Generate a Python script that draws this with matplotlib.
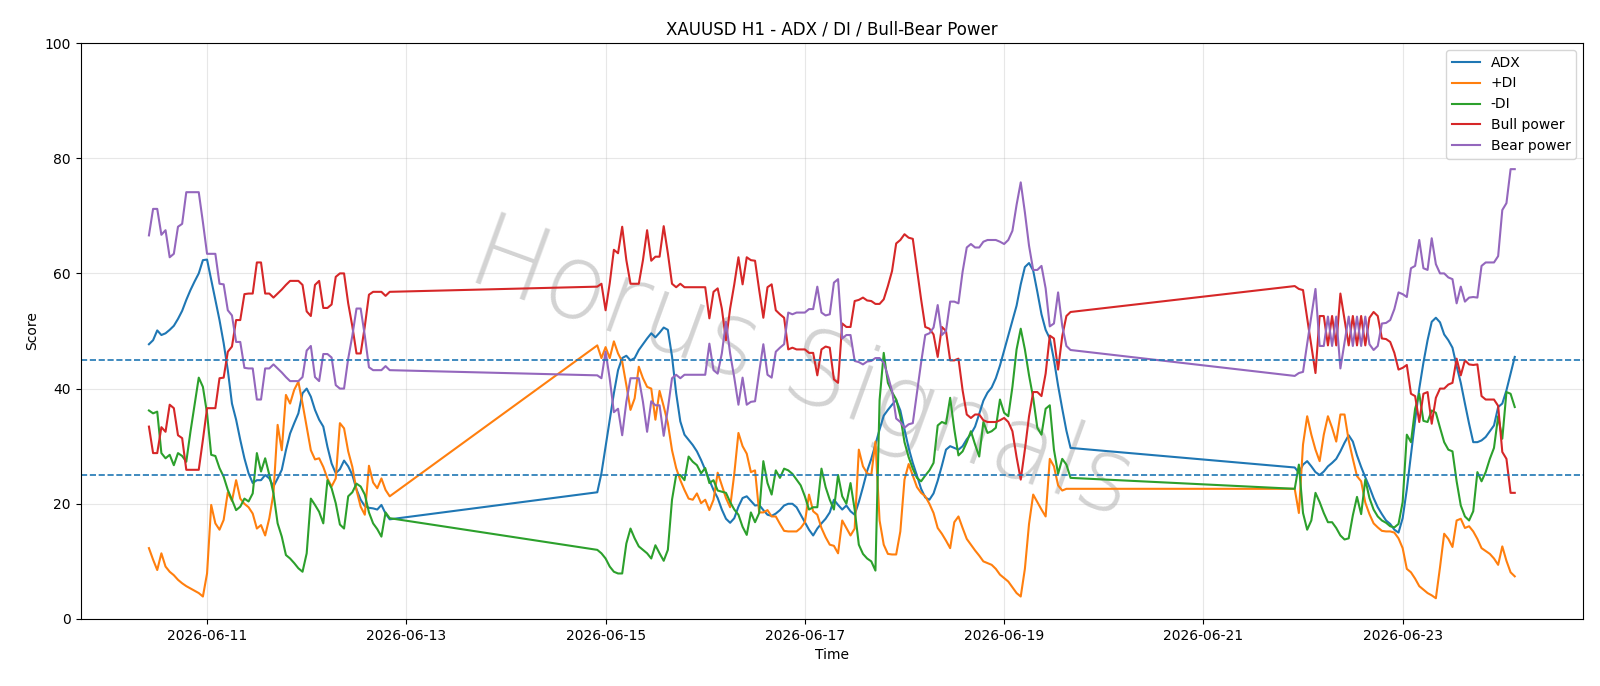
import matplotlib
matplotlib.use("Agg")
import matplotlib.pyplot as plt
import matplotlib.dates as mdates
from matplotlib import font_manager
import numpy as np
import pandas as pd

# ---- time axis: three hourly trading segments (weekend gaps between them)
seg_starts = ["2026-06-10 10:00", "2026-06-14 22:00", "2026-06-21 22:00"]
seg_lengths = [59, 115, 54]

adx = [
    47.7, 48.4, 50.1, 49.3, 49.6, 50.2, 50.9, 52.1, 53.5, 55.4,
    57.1, 58.6, 60.0, 62.3, 62.4, 58.9, 55.4, 51.9, 47.9, 43.2,
    37.4, 34.6, 31.1, 27.9, 25.3, 23.6, 24.1, 24.1, 25.0, 24.4,
    23.0, 24.4, 25.9, 29.3, 32.2, 34.0, 35.7, 39.2, 40.0, 38.6,
    36.3, 34.6, 33.4, 29.9, 27.0, 25.3, 26.0, 27.5, 26.5, 25.0,
    22.5, 20.7, 19.6, 19.3, 19.2, 19.0, 19.8, 18.3, 17.3,
    22.0, 25.3, 29.9, 34.6, 39.2, 43.2, 45.3, 45.7, 44.9, 45.3,
    46.7, 47.7, 48.7, 49.6, 48.9, 49.7, 50.6, 50.2, 45.6, 39.2,
    34.3, 32.0, 31.1, 30.2, 29.1, 27.6, 25.9, 24.1, 22.4, 21.0,
    19.0, 17.4, 16.7, 17.5, 19.5, 21.0, 21.3, 20.5, 19.7, 19.8,
    18.9, 18.1, 17.9, 18.3, 18.9, 19.7, 20.0, 20.0, 19.4, 18.1,
    16.8, 15.5, 14.5, 15.7, 16.6, 17.4, 18.5, 20.7, 19.8, 19.0,
    19.7, 18.7, 18.1, 20.3, 22.9, 25.7, 27.8, 30.3, 32.9, 35.3,
    36.3, 37.2, 38.0, 36.2, 32.9, 29.7, 27.1, 24.9, 22.6, 21.1,
    20.7, 21.8, 24.0, 26.6, 29.4, 30.0, 29.7, 29.4, 30.0, 31.2,
    32.1, 33.4, 35.6, 37.9, 39.3, 40.2, 41.8, 44.0, 46.6, 49.2,
    51.8, 54.4, 58.1, 61.1, 61.8, 60.5, 56.8, 52.9, 50.2, 48.7,
    45.0, 40.5, 36.5, 32.7, 29.7,
    26.3, 25.4, 26.8, 27.4, 26.5, 25.5, 25.0, 25.6, 26.5, 27.1,
    27.8, 29.1, 30.6, 31.9, 30.8, 28.4, 26.4, 24.6, 22.9, 21.0,
    19.4, 18.2, 17.1, 16.5, 15.5, 15.0, 17.5, 22.5, 28.5, 34.5,
    40.0, 44.5, 48.4, 51.6, 52.3, 51.5, 49.4, 48.4, 47.1, 43.9,
    41.0, 37.4, 33.9, 30.7, 30.7, 31.0, 31.6, 32.6, 33.6, 36.8,
    37.4, 39.7, 42.6, 45.5,
]

plus_di = [
    12.3, 10.3, 8.5, 11.4, 9.1, 8.2, 7.6, 6.8, 6.2, 5.7,
    5.3, 4.9, 4.5, 3.9, 7.9, 19.8, 16.6, 15.5, 17.2, 22.0,
    20.5, 24.1, 20.9, 20.0, 19.4, 18.3, 15.7, 16.3, 14.5, 17.5,
    21.8, 33.7, 29.3, 38.9, 37.4, 39.8, 41.2, 37.4, 33.4, 29.3,
    27.7, 27.9, 26.4, 24.4, 23.0, 24.4, 34.0, 33.1, 29.1, 26.4,
    22.4, 19.5, 18.1, 26.6, 23.7, 22.7, 24.4, 22.4, 21.3,
    47.5, 45.3, 47.2, 45.3, 48.2, 46.1, 44.7, 40.6, 36.3, 38.3,
    43.8, 41.8, 40.3, 40.0, 34.6, 39.6, 36.9, 34.0, 29.3, 26.2,
    24.1, 22.4, 20.9, 20.7, 21.8, 20.1, 20.7, 18.9, 20.7, 25.4,
    23.2, 21.0, 19.4, 25.2, 32.3, 30.0, 28.7, 25.5, 25.8, 18.5,
    18.5, 18.9, 17.8, 17.8, 16.5, 15.3, 15.2, 15.2, 15.2, 15.8,
    16.8, 21.6, 18.7, 18.1, 15.8, 14.2, 12.9, 12.7, 11.4, 17.1,
    15.8, 14.5, 15.7, 29.4, 26.5, 25.3, 25.0, 30.8, 17.1, 12.9,
    11.3, 11.2, 11.2, 15.2, 24.2, 26.9, 24.9, 22.9, 21.9, 21.3,
    20.0, 18.4, 15.8, 14.8, 13.6, 12.3, 16.8, 17.8, 15.8, 13.9,
    12.9, 11.9, 11.0, 10.0, 9.7, 9.4, 8.7, 7.7, 7.1, 6.5,
    5.5, 4.5, 3.9, 8.7, 16.5, 21.6, 20.3, 19.0, 17.8, 27.8,
    26.5, 23.2, 22.3, 22.6, 22.6,
    22.6, 18.4, 30.3, 35.2, 32.0, 29.4, 27.4, 32.0, 35.2, 33.2,
    30.8, 35.5, 35.5, 31.0, 27.8, 24.8, 23.9, 20.2, 18.2, 16.6,
    15.9, 15.3, 15.2, 15.2, 15.0, 14.0, 12.3, 8.7, 8.1, 7.0,
    5.7, 5.1, 4.5, 4.1, 3.6, 9.0, 14.8, 13.9, 12.5, 17.1,
    17.4, 15.8, 16.1, 15.2, 13.9, 12.3, 11.8, 11.3, 10.5, 9.4,
    12.6, 10.1, 8.1, 7.4,
]

minus_di = [
    36.2, 35.7, 36.0, 28.8, 27.9, 28.5, 26.7, 28.8, 28.3, 27.3,
    32.5, 37.2, 41.9, 40.3, 35.7, 28.5, 28.3, 26.2, 24.7, 22.4,
    20.7, 18.9, 19.5, 20.9, 20.4, 21.8, 28.8, 25.6, 27.9, 25.0,
    21.8, 16.6, 14.3, 11.1, 10.5, 9.7, 8.8, 8.2, 11.4, 20.9,
    19.8, 18.6, 16.6, 24.1, 22.7, 20.1, 16.4, 15.7, 21.3, 22.0,
    23.5, 23.0, 21.6, 18.5, 16.6, 15.6, 14.3, 18.5, 17.5,
    12.0, 11.4, 10.5, 9.1, 8.2, 7.9, 7.9, 13.1, 15.7, 14.0,
    12.6, 12.0, 11.4, 10.5, 12.8, 11.4, 10.1, 12.0, 20.7, 25.0,
    25.0, 24.1, 28.2, 27.3, 26.7, 25.3, 26.2, 23.6, 24.1, 22.3,
    22.1, 21.9, 20.3, 19.0, 18.1, 16.0, 14.6, 18.5, 16.8, 18.4,
    27.4, 23.6, 21.6, 25.8, 24.5, 26.1, 25.8, 25.2, 24.2, 23.2,
    21.3, 19.0, 19.4, 19.4, 26.1, 22.9, 20.7, 19.0, 25.0, 21.3,
    20.0, 23.6, 19.0, 12.9, 11.3, 10.5, 10.0, 8.4, 38.0, 46.2,
    41.0, 39.4, 38.1, 35.2, 30.7, 28.1, 26.1, 24.5, 23.9, 24.9,
    25.8, 27.1, 33.6, 34.2, 33.9, 38.4, 32.9, 28.4, 29.1, 30.7,
    32.6, 30.3, 28.2, 34.2, 32.3, 32.6, 33.2, 38.1, 35.8, 35.2,
    40.3, 46.8, 50.4, 46.8, 42.3, 38.4, 33.2, 32.0, 36.5, 37.1,
    29.4, 25.2, 27.8, 26.8, 24.5,
    22.6, 26.8, 18.4, 15.5, 17.1, 21.9, 20.3, 18.4, 16.8, 16.8,
    15.8, 14.5, 13.8, 14.0, 18.0, 21.2, 18.2, 24.2, 21.0, 19.0,
    17.8, 17.1, 16.7, 16.1, 15.9, 16.5, 20.3, 32.0, 30.7, 36.5,
    39.1, 34.4, 34.2, 36.2, 35.8, 33.2, 30.7, 29.4, 29.1, 23.9,
    19.7, 17.8, 17.1, 18.7, 25.5, 23.9, 25.5, 27.8, 29.7, 35.2,
    31.3, 39.4, 39.1, 36.8,
]

bull_power = [
    33.4, 28.8, 28.8, 33.3, 32.5, 37.2, 36.6, 31.9, 31.4, 25.9,
    25.9, 25.9, 25.9, 31.1, 36.6, 36.6, 36.6, 41.8, 41.9, 46.4,
    47.3, 51.9, 51.9, 56.4, 56.5, 56.5, 61.9, 61.9, 56.5, 56.5,
    55.8, 56.5, 57.2, 58.0, 58.7, 58.7, 58.7, 58.0, 53.4, 52.6,
    58.0, 58.7, 54.0, 54.0, 54.6, 59.4, 60.0, 60.0, 54.8, 50.8,
    46.1, 46.1, 50.8, 56.3, 56.8, 56.8, 56.8, 56.1, 56.8,
    57.7, 58.2, 53.6, 58.3, 64.1, 63.5, 68.1, 62.3, 58.2, 58.2,
    58.2, 62.3, 67.5, 62.2, 62.9, 62.9, 68.2, 63.5, 58.2, 57.6,
    58.2, 57.6, 57.6, 57.6, 57.6, 57.6, 57.6, 52.2, 56.8, 57.4,
    53.9, 48.4, 53.9, 58.1, 62.8, 58.1, 62.8, 62.3, 62.2, 57.1,
    52.3, 57.6, 58.1, 53.6, 52.9, 52.3, 46.8, 47.1, 46.8, 46.8,
    46.8, 46.2, 46.2, 42.3, 46.8, 47.3, 47.1, 41.6, 41.0, 51.3,
    50.7, 50.7, 55.2, 55.4, 55.8, 55.3, 55.2, 54.7, 54.7, 55.5,
    57.8, 60.4, 65.2, 65.8, 66.8, 66.2, 66.0, 60.7, 55.5, 50.7,
    50.4, 49.4, 45.5, 50.7, 50.0, 44.9, 44.9, 45.2, 39.7, 35.5,
    34.9, 35.5, 35.5, 34.5, 34.2, 34.2, 34.2, 34.5, 34.9, 34.2,
    32.6, 28.1, 24.2, 29.4, 35.2, 39.4, 39.4, 38.7, 42.6, 49.2,
    48.7, 43.3, 49.1, 52.6, 53.3,
    57.8, 57.3, 57.1, 52.2, 47.5, 42.7, 52.6, 52.6, 47.5, 52.6,
    47.5, 56.5, 52.0, 47.5, 52.6, 47.5, 52.6, 47.5, 52.3, 53.3,
    52.6, 48.7, 48.6, 48.1, 46.2, 43.3, 43.6, 44.1, 39.1, 38.7,
    34.2, 39.1, 39.4, 33.9, 38.4, 40.0, 40.0, 40.7, 41.0, 45.2,
    42.3, 44.9, 44.2, 44.1, 44.2, 38.7, 38.1, 38.1, 38.1, 37.0,
    29.0, 27.8, 21.9, 21.9,
]

bear_power = [
    66.6, 71.2, 71.2, 66.7, 67.5, 62.8, 63.4, 68.1, 68.6, 74.1,
    74.1, 74.1, 74.1, 68.9, 63.4, 63.4, 63.4, 58.2, 58.1, 53.6,
    52.7, 48.1, 48.1, 43.6, 43.5, 43.5, 38.1, 38.1, 43.5, 43.5,
    44.2, 43.5, 42.8, 42.0, 41.3, 41.3, 41.3, 42.0, 46.6, 47.4,
    42.0, 41.3, 46.0, 46.0, 45.4, 40.6, 40.0, 40.0, 45.2, 49.2,
    53.9, 53.9, 49.2, 43.7, 43.2, 43.2, 43.2, 43.9, 43.2,
    42.3, 41.8, 46.4, 41.7, 35.9, 36.5, 31.9, 37.7, 41.8, 41.8,
    41.8, 37.7, 32.5, 37.8, 37.1, 37.1, 31.8, 36.5, 41.8, 42.4,
    41.8, 42.4, 42.4, 42.4, 42.4, 42.4, 42.4, 47.8, 43.2, 42.6,
    46.1, 51.6, 46.1, 41.9, 37.2, 41.9, 37.2, 37.7, 37.8, 42.9,
    47.7, 42.4, 41.9, 46.4, 47.1, 47.7, 53.2, 52.9, 53.2, 53.2,
    53.2, 53.8, 53.8, 57.7, 53.2, 52.7, 52.9, 58.4, 59.0, 48.7,
    49.3, 49.3, 44.8, 44.6, 44.2, 44.7, 44.8, 45.3, 45.3, 44.5,
    42.2, 39.6, 34.8, 34.2, 33.2, 33.8, 34.0, 39.3, 44.5, 49.3,
    49.6, 50.6, 54.5, 49.3, 50.0, 55.1, 55.1, 54.8, 60.3, 64.5,
    65.1, 64.5, 64.5, 65.5, 65.8, 65.8, 65.8, 65.5, 65.1, 65.8,
    67.4, 71.9, 75.8, 70.6, 64.8, 60.6, 60.6, 61.3, 57.4, 50.8,
    51.3, 56.7, 50.9, 47.4, 46.7,
    42.2, 42.7, 42.9, 47.8, 52.5, 57.3, 47.4, 47.4, 52.5, 47.4,
    52.5, 43.5, 48.0, 52.5, 47.4, 52.5, 47.4, 52.5, 47.7, 46.7,
    47.4, 51.3, 51.4, 51.9, 53.8, 56.7, 56.4, 55.9, 60.9, 61.3,
    65.8, 60.9, 60.6, 66.1, 61.6, 60.0, 60.0, 59.3, 59.0, 54.8,
    57.7, 55.1, 55.8, 55.9, 55.8, 61.3, 61.9, 61.9, 61.9, 63.0,
    71.0, 72.2, 78.1, 78.1,
]

threshold_levels = [25, 45]
series_labels = ["ADX", "+DI", "-DI", "Bull power", "Bear power"]
title_text = "XAUUSD H1 - ADX / DI / Bull-Bear Power"
watermark_text = "Horus Signals"

times = pd.DatetimeIndex(np.concatenate(
    [pd.date_range(s, periods=n, freq="h").values for s, n in zip(seg_starts, seg_lengths)]
))

fig = plt.figure(figsize=(16, 6.86), dpi=100)
ax = fig.add_axes([0.0504, 0.0977, 0.9390, 0.8396])

for vals, lab in zip([adx, plus_di, minus_di, bull_power, bear_power], series_labels):
    ax.plot(times, vals, label=lab, linewidth=1.5)

for lvl in threshold_levels:
    ax.axhline(lvl, linestyle="--", color="#1f77b4", linewidth=1.2)

# thin watermark font if available
thin = None
for f in font_manager.fontManager.ttflist:
    if f.name == "DejaVu Sans" and f.weight in (200, "extra light", "ultralight"):
        thin = f.fname
wm_kw = dict(transform=ax.transAxes, color="gray", alpha=0.35, rotation=-20,
             ha="center", va="center", zorder=0)
if thin:
    ax.text(0.48, 0.43, watermark_text,
            fontproperties=font_manager.FontProperties(fname=thin, size=74), **wm_kw)
else:
    ax.text(0.48, 0.43, watermark_text, family="Lato", fontweight=100, fontsize=78, **wm_kw)

ax.set_ylim(0, 100)
ax.set_title(title_text, fontsize=12)
ax.set_xlabel("Time")
ax.set_ylabel("Score")
ax.grid(True, alpha=0.3)
ax.xaxis.set_major_locator(mdates.DayLocator(bymonthday=range(1, 32, 2)))
ax.xaxis.set_major_formatter(mdates.DateFormatter("%Y-%m-%d"))
ax.legend(loc="upper right")

fig.savefig("out.png", dpi=100)
